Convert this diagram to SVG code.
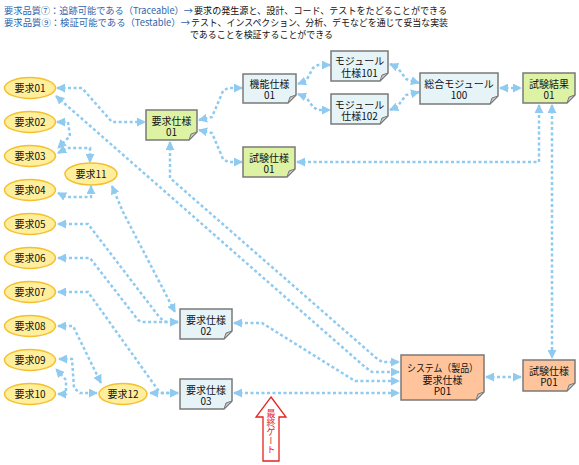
<svg xmlns="http://www.w3.org/2000/svg" width="579" height="465" viewBox="0 0 579 465">
<defs>
<style>
text{font-family:"Noto Sans CJK JP","Noto Sans",sans-serif;fill:#111;}
.hd{font-size:9.5px;}
.bl{fill:#2f66ad;}
.lb{font-size:10px;text-anchor:middle;}
.req{fill:#ffee9c;stroke:#f4c02f;stroke-width:1.5;}
.box{stroke:#7a7a7a;stroke-width:1.5;}
.g{fill:#def2a4;}
.b{fill:#e6f4f8;}
.o{fill:#ffc49b;}
.fold{fill:#c4c4c4;stroke:#7a7a7a;stroke-width:1;}
.c{fill:none;stroke:#8fcaf0;stroke-width:2.5;stroke-dasharray:3 2.5;marker-start:url(#a);marker-end:url(#a);}
.gate{fill:#fff;stroke:#e5231f;stroke-width:1.3;}
.gt{font-size:9px;fill:#e5231f;writing-mode:vertical-rl;text-orientation:upright;}
</style>
<marker id="a" viewBox="0 0 10 10" refX="9" refY="5" markerWidth="9" markerHeight="9" markerUnits="userSpaceOnUse" orient="auto-start-reverse">
<path d="M0,0 L10,5 L0,10 z" fill="#8fcaf0"/>
</marker>
</defs>

<g id="header">
<text class="hd" y="14"><tspan class="bl" x="4" textLength="189" lengthAdjust="spacingAndGlyphs">要求品質⑦：追跡可能である（Traceable）→</tspan><tspan x="194" textLength="253" lengthAdjust="spacingAndGlyphs">要求の発生源と、設計、コード、テストをたどることができる</tspan></text>
<text class="hd" y="26"><tspan class="bl" x="4" textLength="186" lengthAdjust="spacingAndGlyphs">要求品質⑨：検証可能である（Testable）→</tspan><tspan x="191" textLength="257" lengthAdjust="spacingAndGlyphs">テスト、インスペクション、分析、デモなどを通じて妥当な実装</tspan><tspan x="190" dy="12" textLength="143" lengthAdjust="spacingAndGlyphs">であることを検証することができる</tspan></text>
</g>

<g id="connectors">
<path class="c" d="M57,88 H82 L112,122 H145"/>
<path class="c" d="M56,96 L365,367 L372,372 H399"/>
<path class="c" d="M170,142 V178 L375,357 L382,362 H399"/>
<path class="c" d="M199,120 L212,117 L223,91 L228,88 H242"/>
<path class="c" d="M199,130 L212,133 L223,159 L228,162 H242"/>
<path class="c" d="M298,84 L306,81 L313,68 L318,65 H330"/>
<path class="c" d="M298,94 L306,97 L313,107 L318,110 H330"/>
<path class="c" d="M390,64 L397,67 L406,79 L419,83"/>
<path class="c" d="M390,110 L397,107 L406,95 L419,92"/>
<path class="c" d="M500,88 H521"/>
<path class="c" d="M297,162 H539 V105"/>
<path class="c" d="M552,105 V358"/>
<path class="c" d="M486,377 H521"/>
<path class="c" d="M234,323 H262 L355,381 H399"/>
<path class="c" d="M234,393 H399"/>
<path class="c" d="M57,122 H68 L70,136 L58,148"/>
<path class="c" d="M58,153 L67,148 H90 V162"/>
<path class="c" d="M58,193 L66,197 H91 V186"/>
<path class="c" d="M112,186 L123,212 L175,312"/>
<path class="c" d="M58,224 H88 L160,318 L166,322 H178"/>
<path class="c" d="M58,258 H90 L138,320 L142,322 H178"/>
<path class="c" d="M58,292 H88 L158,390 L162,393 H178"/>
<path class="c" d="M58,326 H73 L101,383"/>
<path class="c" d="M59,359 H72 L74,388 L80,393 H97"/>
<path class="c" d="M58,394 H66 V380 L56,369"/>
<path class="c" d="M150,393 H178"/>
</g>

<g id="req01"><ellipse class="req" cx="30" cy="88" rx="25.5" ry="10.5"/><text class="lb" x="30" y="91.5">要求01</text></g>
<g id="req02"><ellipse class="req" cx="30" cy="122" rx="25.5" ry="10.5"/><text class="lb" x="30" y="125.5">要求02</text></g>
<g id="req03"><ellipse class="req" cx="30" cy="156" rx="25.5" ry="10.5"/><text class="lb" x="30" y="159.5">要求03</text></g>
<g id="req04"><ellipse class="req" cx="30" cy="190" rx="25.5" ry="10.5"/><text class="lb" x="30" y="193.5">要求04</text></g>
<g id="req05"><ellipse class="req" cx="30" cy="224" rx="25.5" ry="10.5"/><text class="lb" x="30" y="227.5">要求05</text></g>
<g id="req06"><ellipse class="req" cx="30" cy="258" rx="25.5" ry="10.5"/><text class="lb" x="30" y="261.5">要求06</text></g>
<g id="req07"><ellipse class="req" cx="30" cy="292" rx="25.5" ry="10.5"/><text class="lb" x="30" y="295.5">要求07</text></g>
<g id="req08"><ellipse class="req" cx="30" cy="326" rx="25.5" ry="10.5"/><text class="lb" x="30" y="329.5">要求08</text></g>
<g id="req09"><ellipse class="req" cx="30" cy="360" rx="25.5" ry="10.5"/><text class="lb" x="30" y="363.5">要求09</text></g>
<g id="req10"><ellipse class="req" cx="30" cy="394" rx="25.5" ry="10.5"/><text class="lb" x="30" y="397.5">要求10</text></g>
<g id="req11"><ellipse class="req" cx="91" cy="174" rx="26" ry="11"/><text class="lb" x="91" y="177.5">要求11</text></g>
<g id="req12"><ellipse class="req" cx="123" cy="394" rx="24" ry="10.5"/><text class="lb" x="123" y="397.5">要求12</text></g>

<g id="spec01"><path class="box g" d="M146,110 H197 V132 L189,140 H146 Z"/><path class="fold" d="M189,140 L197,132 L191,134 Z"/><text class="lb" x="171.5" y="124.5">要求仕様<tspan x="171.5" dy="11">01</tspan></text></g>
<g id="func01"><path class="box b" d="M243,74 H296 V95 L288,103 H243 Z"/><path class="fold" d="M288,103 L296,95 L290,97 Z"/><text class="lb" x="269.5" y="88">機能仕様<tspan x="269.5" dy="11">01</tspan></text></g>
<g id="mod101"><path class="box b" d="M331,51 H388 V73 L380,81 H331 Z"/><path class="fold" d="M380,81 L388,73 L382,75 Z"/><text class="lb" x="359.5" y="65">モジュール<tspan x="359.5" dy="11.5">仕様101</tspan></text></g>
<g id="mod102"><path class="box b" d="M331,94 H388 V116 L380,124 H331 Z"/><path class="fold" d="M380,124 L388,116 L382,118 Z"/><text class="lb" x="359.5" y="108.5">モジュール<tspan x="359.5" dy="11.5">仕様102</tspan></text></g>
<g id="mod100"><path class="box b" d="M420,73 H498 V96 L490,104 H420 Z"/><path class="fold" d="M490,104 L498,96 L492,98 Z"/><text class="lb" x="459" y="87.5">総合モジュール<tspan x="459" dy="11.5">100</tspan></text></g>
<g id="result01"><path class="box g" d="M523,73 H575 V95 L567,103 H523 Z"/><path class="fold" d="M567,103 L575,95 L569,97 Z"/><text class="lb" x="549" y="87.5">試験結果<tspan x="549" dy="11.5">01</tspan></text></g>
<g id="test01"><path class="box g" d="M243,147 H295 V169 L287,177 H243 Z"/><path class="fold" d="M287,177 L295,169 L289,171 Z"/><text class="lb" x="269" y="161.5">試験仕様<tspan x="269" dy="11.5">01</tspan></text></g>
<g id="spec02"><path class="box b" d="M180,309 H232 V331 L224,339 H180 Z"/><path class="fold" d="M224,339 L232,331 L226,333 Z"/><text class="lb" x="206" y="323.5">要求仕様<tspan x="206" dy="11.5">02</tspan></text></g>
<g id="spec03"><path class="box b" d="M180,379 H232 V401 L224,409 H180 Z"/><path class="fold" d="M224,409 L232,401 L226,403 Z"/><text class="lb" x="206" y="393.5">要求仕様<tspan x="206" dy="11.5">03</tspan></text></g>
<g id="sysP01"><path class="box o" d="M401,355 H484 V392 L476,400 H401 Z"/><path class="fold" d="M476,400 L484,392 L478,394 Z"/><text class="lb" x="442.5" y="371.5"><tspan x="442.5" textLength="71" lengthAdjust="spacingAndGlyphs">システム（製品）</tspan><tspan x="442.5" dy="12">要求仕様</tspan><tspan x="442.5" dy="11.5">P01</tspan></text></g>
<g id="testP01"><path class="box o" d="M523,360 H575 V383 L567,391 H523 Z"/><path class="fold" d="M567,391 L575,383 L569,385 Z"/><text class="lb" x="549" y="374.5">試験仕様<tspan x="549" dy="11.5">P01</tspan></text></g>

<g id="gate">
<path class="gate" d="M271,397 L286,417 H279 V461 H263 V417 H256 Z"/>
<text class="gt" x="271" y="409">最終ゲート</text>
</g>
</svg>
